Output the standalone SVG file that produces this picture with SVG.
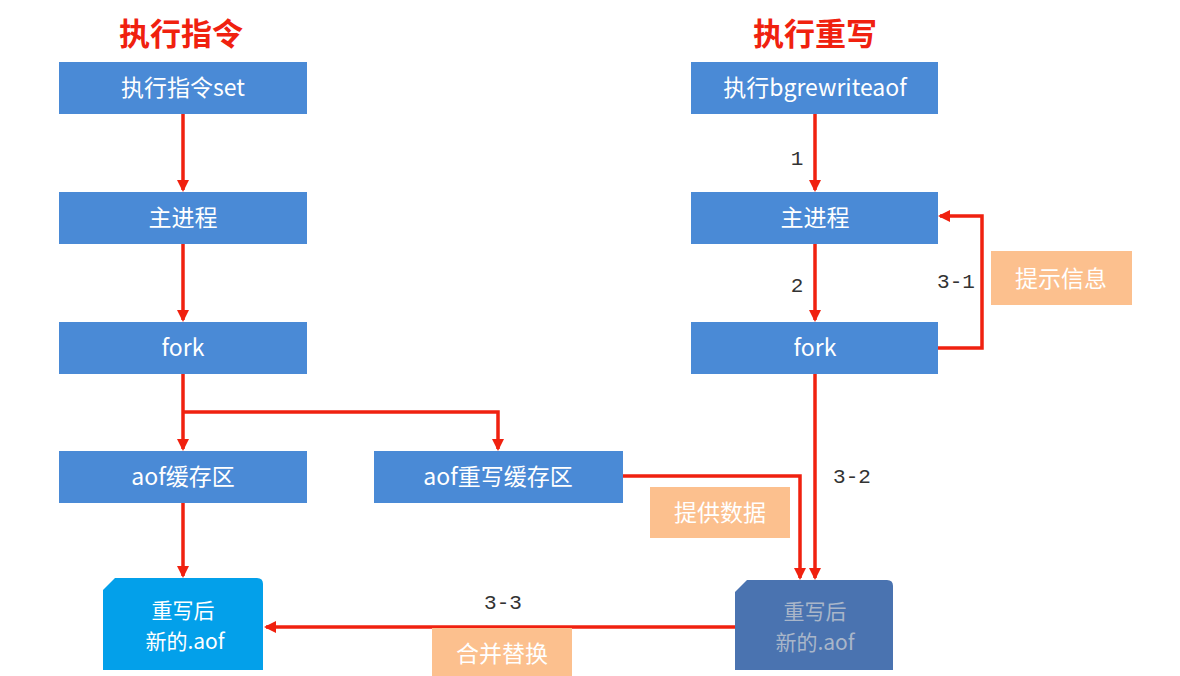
<svg xmlns="http://www.w3.org/2000/svg" width="1180" height="676" viewBox="0 0 1180 676">
<defs>
<marker id="ah" markerWidth="12" markerHeight="12" refX="10" refY="6" orient="auto" markerUnits="userSpaceOnUse" viewBox="0 0 12 12"><path d="M0,0 L12,6 L0,12 z" fill="#f0210f"/></marker>
<style>
.b{fill:#4a8ad6}
.t{font-family:"Noto Sans CJK SC","Noto Sans",sans-serif;font-size:23px;fill:#fff;text-anchor:middle}
.d{font-family:"Noto Sans CJK SC","Noto Sans",sans-serif;font-size:21px;fill:#fff;text-anchor:middle}
.n{font-family:"Liberation Mono",monospace;font-size:21px;fill:#333;text-anchor:middle}
.o{fill:#fcc08e}
.h{font-family:"Noto Sans CJK SC",sans-serif;font-size:31px;font-weight:bold;fill:#f0210f;text-anchor:middle}
.c{fill:none;stroke:#f0210f;stroke-width:3.5;marker-end:url(#ah)}
</style>
</defs>
<rect width="1180" height="676" fill="#fff"/>
<text class="h" x="181" y="45">执行指令</text>
<text class="h" x="815" y="45">执行重写</text>
<g id="connectors">
<path class="c" d="M183,114 V190"/>
<path class="c" d="M183,244 V320"/>
<path class="c" d="M183,374 V449"/>
<path class="c" d="M183,412 H498 V449"/>
<path class="c" d="M183,503 V576"/>
<path class="c" d="M815,114 V190"/>
<path class="c" d="M815,244 V320"/>
<path class="c" d="M938,348 H982 V216 H940"/>
<path class="c" d="M815,374 V578"/>
<path class="c" d="M623,476 H800 V578"/>
<path class="c" d="M735,627 H266"/>
</g>
<g id="n1"><rect class="b" x="59" y="62" width="248" height="52"/><text class="t" x="183" y="96">执行指令set</text></g>
<g id="n2"><rect class="b" x="59" y="192" width="248" height="52"/><text class="t" x="183" y="226">主进程</text></g>
<g id="n3"><rect class="b" x="59" y="322" width="248" height="52"/><text class="t" x="183" y="356">fork</text></g>
<g id="n4"><rect class="b" x="59" y="451" width="248" height="52"/><text class="t" x="183" y="485">aof缓存区</text></g>
<g id="n5"><rect class="b" x="374" y="451" width="249" height="52"/><text class="t" x="498" y="485">aof重写缓存区</text></g>
<g id="n6"><rect class="b" x="691" y="62" width="247" height="52"/><text class="t" x="815" y="96">执行bgrewriteaof</text></g>
<g id="n7"><rect class="b" x="691" y="192" width="247" height="52"/><text class="t" x="815" y="226">主进程</text></g>
<g id="n8"><rect class="b" x="691" y="322" width="247" height="52"/><text class="t" x="815" y="356">fork</text></g>
<g id="n9"><path d="M115,578 H257 Q263,578 263,584 V670 H103 V590 z" fill="#03a0ea"/><text class="d" x="183" y="618">重写后</text><text class="d" x="185" y="649">新的.aof</text></g>
<g id="n10"><path d="M747,580 H887 Q893,580 893,586 V670 H735 V592 z" fill="#4a73b0"/><text class="d" x="815" y="619" style="fill:#a9b6c9">重写后</text><text class="d" x="815" y="650" style="fill:#a9b6c9">新的.aof</text></g>
<text class="n" x="797" y="165">1</text>
<text class="n" x="797" y="292">2</text>
<text class="n" x="956" y="288">3-1</text>
<text class="n" x="852" y="483">3-2</text>
<text class="n" x="503" y="609">3-3</text>
<g id="l1"><rect class="o" x="991" y="251" width="141" height="54"/><text class="t" x="1061" y="287">提示信息</text></g>
<g id="l2"><rect class="o" x="650" y="487" width="140" height="51"/><text class="t" x="720" y="521">提供数据</text></g>
<g id="l3"><rect class="o" x="432" y="628" width="140" height="48"/><text class="t" x="502" y="662">合并替换</text></g>
</svg>
